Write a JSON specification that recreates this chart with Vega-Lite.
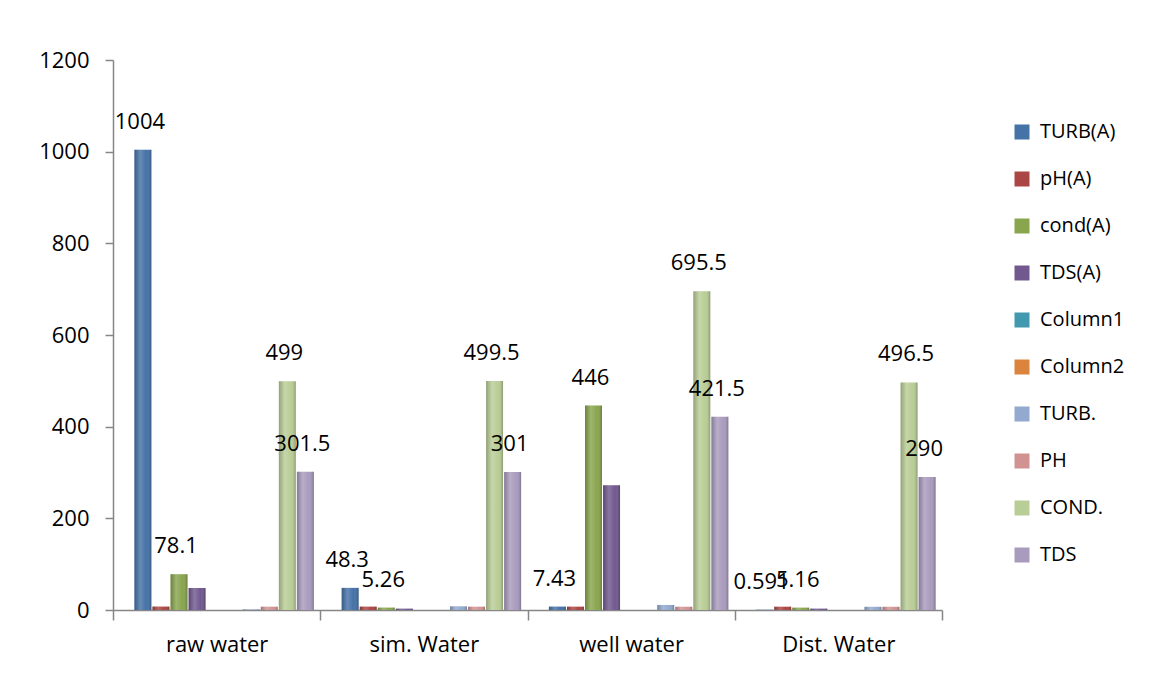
{
  "$schema": "https://vega.github.io/schema/vega-lite/v6.json",
  "autosize": {"type": "none"},
  "padding": {"left": 113, "top": 60, "right": 207, "bottom": 69},
  "width": 829,
  "height": 550,
  "background": "white",
  "config": {
    "view": {"stroke": null},
    "font": "Open Sans",
    "axis": {"labelFont": "Open Sans", "labelColor": "black", "domainColor": "#868686", "tickColor": "#868686", "grid": false, "title": null}
  },
  "data": {
    "values": [
      {"cat": "raw water", "series": "TURB(A)", "value": 1004, "lab": true},
      {"cat": "raw water", "series": "pH(A)", "value": 7.5, "lab": false},
      {"cat": "raw water", "series": "cond(A)", "value": 78.1, "lab": true},
      {"cat": "raw water", "series": "TDS(A)", "value": 48, "lab": false},
      {"cat": "raw water", "series": "TURB.", "value": 1.5, "lab": false},
      {"cat": "raw water", "series": "PH", "value": 7.2, "lab": false},
      {"cat": "raw water", "series": "COND.", "value": 499, "lab": true},
      {"cat": "raw water", "series": "TDS", "value": 301.5, "lab": true},
      {"cat": "sim. Water", "series": "TURB(A)", "value": 48.3, "lab": true},
      {"cat": "sim. Water", "series": "pH(A)", "value": 7.4, "lab": false},
      {"cat": "sim. Water", "series": "cond(A)", "value": 5.26, "lab": true},
      {"cat": "sim. Water", "series": "TDS(A)", "value": 3, "lab": false},
      {"cat": "sim. Water", "series": "TURB.", "value": 8, "lab": false},
      {"cat": "sim. Water", "series": "PH", "value": 7.2, "lab": false},
      {"cat": "sim. Water", "series": "COND.", "value": 499.5, "lab": true},
      {"cat": "sim. Water", "series": "TDS", "value": 301, "lab": true},
      {"cat": "well water", "series": "TURB(A)", "value": 7.43, "lab": true},
      {"cat": "well water", "series": "pH(A)", "value": 7.3, "lab": false},
      {"cat": "well water", "series": "cond(A)", "value": 446, "lab": true},
      {"cat": "well water", "series": "TDS(A)", "value": 272, "lab": false},
      {"cat": "well water", "series": "TURB.", "value": 11, "lab": false},
      {"cat": "well water", "series": "PH", "value": 7.1, "lab": false},
      {"cat": "well water", "series": "COND.", "value": 695.5, "lab": true},
      {"cat": "well water", "series": "TDS", "value": 421.5, "lab": true},
      {"cat": "Dist. Water", "series": "TURB(A)", "value": 0.591, "lab": true},
      {"cat": "Dist. Water", "series": "pH(A)", "value": 7.2, "lab": false},
      {"cat": "Dist. Water", "series": "cond(A)", "value": 5.16, "lab": true},
      {"cat": "Dist. Water", "series": "TDS(A)", "value": 3, "lab": false},
      {"cat": "Dist. Water", "series": "TURB.", "value": 7, "lab": false},
      {"cat": "Dist. Water", "series": "PH", "value": 7, "lab": false},
      {"cat": "Dist. Water", "series": "COND.", "value": 496.5, "lab": true},
      {"cat": "Dist. Water", "series": "TDS", "value": 290, "lab": true}
    ]
  },
  "encoding": {
    "x": {
      "field": "cat", "type": "nominal", "sort": null,
      "scale": {"domain": ["raw water", "sim. Water", "well water", "Dist. Water"], "paddingInner": 0, "paddingOuter": 0},
      "axis": {"labelAngle": 0, "labelFontSize": 22, "tickBand": "extent", "tickSize": 10, "labelPadding": 14, "domainWidth": 1.5, "tickWidth": 1.5}
    },
    "xOffset": {
      "field": "series", "type": "nominal",
      "scale": {"domain": ["TURB(A)", "pH(A)", "cond(A)", "TDS(A)", "Column1", "Column2", "TURB.", "PH", "COND.", "TDS"], "paddingInner": 0.06, "paddingOuter": 0.77, "align": 0.77}
    },
    "y": {
      "field": "value", "type": "quantitative",
      "scale": {"domain": [0, 1200], "nice": false},
      "axis": {"values": [0, 200, 400, 600, 800, 1000, 1200], "format": "d", "labelFontSize": 22, "tickSize": 8, "labelPadding": 16, "domainWidth": 1.5, "tickWidth": 1.5}
    }
  },
  "layer": [
    {
      "mark": {"type": "bar", "cornerRadiusTop": 4},
      "encoding": {
        "color": {
          "field": "series", "type": "nominal",
          "scale": {
            "domain": ["TURB(A)", "pH(A)", "cond(A)", "TDS(A)", "Column1", "Column2", "TURB.", "PH", "COND.", "TDS"],
            "range": ["#4572A7", "#AA4643", "#89A54E", "#71588F", "#4198AF", "#DB843D", "#93A9CF", "#D19392", "#B9CD96", "#A99BBD"]
          },
          "legend": {
            "title": null, "orient": "none", "legendX": 899, "legendY": 62,
            "symbolType": "square", "symbolSize": 225, "symbolStrokeWidth": 0,
            "labelFontSize": 20, "labelFont": "Open Sans", "labelColor": "black", "rowPadding": 27, "labelOffset": 8
          }
        }
      }
    },
    {
      "mark": {
        "type": "bar", "cornerRadiusTop": 4,
        "fill": {"gradient": "linear", "x1": 0, "y1": 0, "x2": 1, "y2": 0,
          "stops": [
            {"offset": 0, "color": "rgba(0,0,0,0.22)"},
            {"offset": 0.35, "color": "rgba(255,255,255,0.18)"},
            {"offset": 0.7, "color": "rgba(255,255,255,0.0)"},
            {"offset": 1, "color": "rgba(0,0,0,0.25)"}
          ]}
      }
    },
    {
      "transform": [{"filter": "datum.lab"}],
      "mark": {"type": "text", "fontSize": 22, "font": "Open Sans", "color": "black", "baseline": "alphabetic", "dy": -21, "dx": -3},
      "encoding": {
        "text": {"field": "value", "type": "quantitative", "format": "~g"}
      }
    }
  ]
}
